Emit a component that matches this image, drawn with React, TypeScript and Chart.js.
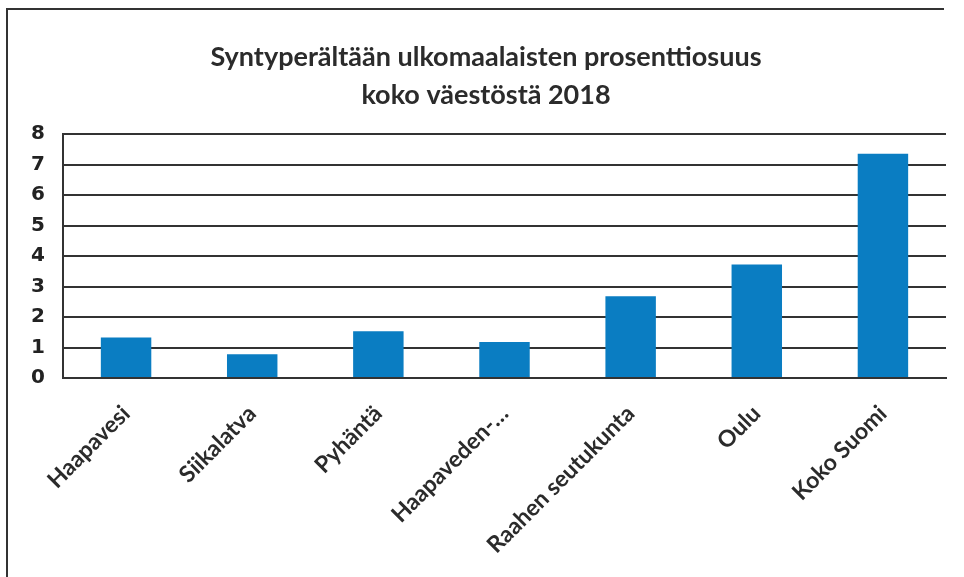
import React, { useEffect, useRef } from "react";
import { Chart, registerables } from "chart.js";

Chart.register(...registerables);

const categories = ["Haapavesi", "Siikalatva", "Pyhäntä", "Haapaveden-…", "Raahen seutukunta", "Oulu", "Koko Suomi"];
const values = [1.33, 0.78, 1.53, 1.18, 2.68, 3.72, 7.35];
const titleLines = ["Syntyperältään ulkomaalaisten prosenttiosuus", "koko väestöstä 2018"];

const framePlugin = {
  id: "frame",
  beforeDraw(chart: any) {
    const ctx = chart.ctx;
    ctx.save();
    ctx.fillStyle = "#ffffff";
    ctx.fillRect(0, 0, chart.width, chart.height);
    ctx.strokeStyle = "#333333";
    ctx.lineWidth = 2;
    ctx.beginPath();
    ctx.moveTo(7, 577);
    ctx.lineTo(7, 9);
    ctx.lineTo(944, 9);
    ctx.stroke();
    ctx.fillStyle = "#2b2b2b";
    ctx.font = "bold 27px Lato";
    ctx.textAlign = "center";
    ctx.textBaseline = "middle";
    ctx.fillText(titleLines[0], 486, 57);
    ctx.fillText(titleLines[1], 486, 95);
    ctx.restore();
  },
};

export default function App() {
  const ref = useRef<HTMLCanvasElement>(null);
  useEffect(() => {
    document.body.style.margin = "0";
    const chart = new Chart(ref.current!, {
      type: "bar",
      data: {
        labels: categories,
        datasets: [
          {
            data: values,
            backgroundColor: "#0a7dc2",
            barPercentage: 0.4,
            categoryPercentage: 1,
          },
        ],
      },
      options: {
        animation: false,
        responsive: false,
        maintainAspectRatio: false,
        layout: { padding: { top: 134, right: 18, left: 0, bottom: 0 } },
        plugins: { legend: { display: false }, title: { display: false }, tooltip: { enabled: false } },
        scales: {
          x: {
            grid: { display: false, drawTicks: false },
            border: { display: true, color: "#333333", width: 2 },
            ticks: {
              minRotation: 45,
              maxRotation: 45,
              color: "#2b2b2b",
              font: { family: "Lato", size: 23, weight: "bold" },
              padding: 22,
            },
            afterFit(scale: any) {
              scale.height = 199;
            },
          },
          y: {
            min: 0,
            max: 8,
            ticks: {
              stepSize: 1,
              color: "#222222",
              font: { family: "DejaVu Sans", size: 20, weight: "bold" },
              padding: 18,
            },
            grid: { color: "#333333", lineWidth: 2, drawTicks: false },
            border: { display: true, color: "#333333", width: 2 },
            afterFit(scale: any) {
              scale.width = 63;
            },
          },
        },
      },
      plugins: [framePlugin],
    });
    return () => chart.destroy();
  }, []);
  return (
    <div style={{ width: 964, height: 577, position: "relative" }}>
      <canvas ref={ref} width={964} height={577} style={{ display: "block" }} />
    </div>
  );
}
